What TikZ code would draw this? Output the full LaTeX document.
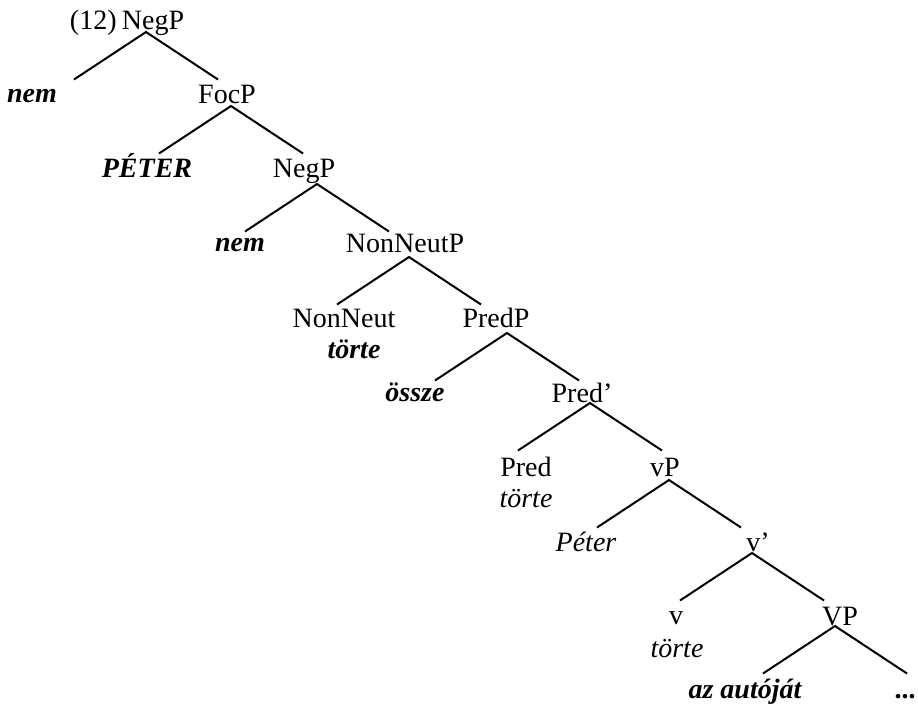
\documentclass[tikz,border=0pt]{standalone}
\usepackage{fontspec}
\setmainfont{Liberation Serif}
\usetikzlibrary{calc}

\begin{document}
\begin{tikzpicture}[
    x=0.5pt, y=-0.5pt,
    cat/.style={
        inner sep=0pt, anchor=base, font=\fontsize{14}{17}\selectfont
    },
    lex/.style={cat, font=\fontsize{14}{17}\selectfont\bfseries\itshape},
    trc/.style={cat, font=\fontsize{14}{17}\selectfont\itshape},
    branch/.style={line width=1pt}
]
\useasboundingbox (0,0) rectangle (918,709);

% Layer 0
\node[cat, anchor=base east] (ex) at (117,29) {(12)};
\node[cat] (negA) at (153,29) {NegP};

% Layer 1
\node[lex] (nemA) at (32,102) {nem};
\node[cat] (focP) at (227,103) {FocP};

% Layer 2
\node[lex] (peter) at (147,177) {PÉTER};
\node[cat] (negB) at (304,177) {NegP};

% Layer 3
\node[lex] (nemB) at (240,251) {nem};
\node[cat] (nonneutP) at (405,252) {NonNeutP};

% Layer 4
\node[cat] (nonneut) at (344,327) {NonNeut};
\node[lex] (nonneutV) at (354,358) {törte};
\node[cat] (predP) at (496,327) {PredP};

% Layer 5
\node[lex] (ossze) at (415,401) {össze};
\node[cat] (predB) at (582,402) {Pred’};

% Layer 6
\node[cat] (pred) at (526,476) {Pred};
\node[trc] (predV) at (526,507) {törte};
\node[cat] (vP) at (665,476) {vP};

% Layer 7
\node[trc] (peterB) at (586,551) {Péter};
\node[cat] (vbar) at (758,551) {v’};

% Layer 8
\node[cat] (v) at (676,624) {v};
\node[trc] (vV) at (677,657) {törte};
\node[cat] (VP) at (840,625) {VP};

% Layer 9 (bottom)
\node[lex] (obj) at (745,698) {az autóját};
\node[lex] (dots) at (906,698) {...};

% Branches below each phrase
\foreach \p/\dx/\dy in {negA/-7/3, focP/4/3, negB/13/7, nonneutP/4/5,
    predP/11/6, predB/8/1, vP/4/4, vbar/-6/2, VP/-5/1}
{
    \coordinate (\p-top) at ($(\p.base)+(\dx,\dy)$);
    \coordinate (\p-l) at ($(\p-top)+(-72,47.5)$);
    \coordinate (\p-r) at ($(\p-top)+(72,47.5)$);
    \draw[branch] (\p-l) -- (\p-top) -- (\p-r);
}

\end{tikzpicture}
\end{document}
